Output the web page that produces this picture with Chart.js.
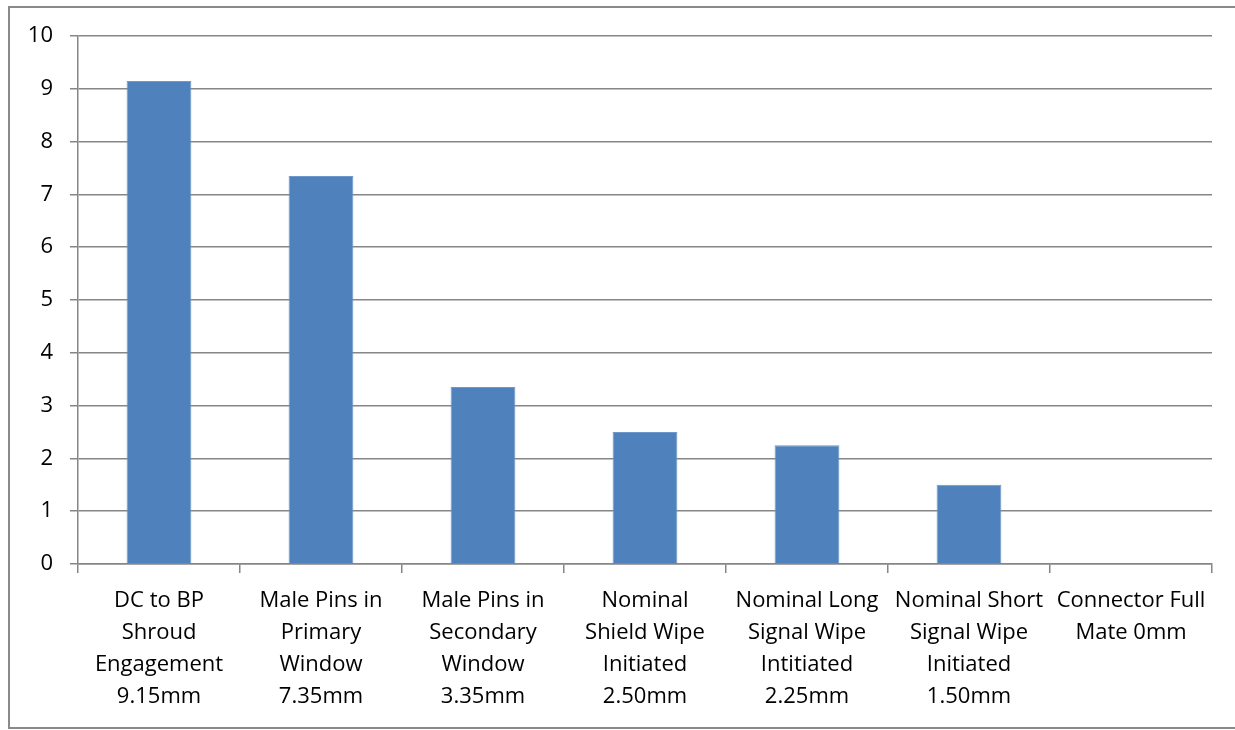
<!DOCTYPE html>
<html>
<head>
<meta charset="utf-8">
<script src="https://cdn.jsdelivr.net/npm/chart.js@4/dist/chart.umd.min.js"></script>
<style>
  html, body { margin: 0; padding: 0; background: #fff; }
  #wrap { position: relative; width: 1235px; height: 730px; }
</style>
</head>
<body>
<div id="wrap"><canvas id="c" width="1235" height="730"></canvas></div>
<script>
// Mating stages and the engagement distance at each stage (mm)
const stageLabels = [
  ["DC to BP", "Shroud", "Engagement", "9.15mm"],
  ["Male Pins in", "Primary", "Window", "7.35mm"],
  ["Male Pins in", "Secondary", "Window", "3.35mm"],
  ["Nominal", "Shield Wipe", "Initiated", "2.50mm"],
  ["Nominal Long", "Signal Wipe", "Intitiated", "2.25mm"],
  ["Nominal Short", "Signal Wipe", "Initiated", "1.50mm"],
  ["Connector Full", "Mate 0mm"]
];
const distances = [9.15, 7.35, 3.35, 2.50, 2.25, 1.50, 0];
const yTicks = [0, 1, 2, 3, 4, 5, 6, 7, 8, 9, 10];

const FONT = "'Open Sans', Lato, sans-serif";
const GRID = "#868686";

// outer frame around the whole chart
const framePlugin = {
  id: "frame",
  beforeDraw(chart) {
    const ctx = chart.ctx;
    ctx.save();
    ctx.strokeStyle = "#8a8a8a";
    ctx.lineWidth = 2;
    ctx.strokeRect(9, 7, 1240, 721);
    ctx.restore();
  }
};

new Chart(document.getElementById("c"), {
  type: "bar",
  data: {
    labels: stageLabels,
    datasets: [{
      data: distances,
      backgroundColor: "#4F81BD",
      borderColor: "#6F97C9",
      borderWidth: 1,
      barPercentage: 0.4,
      categoryPercentage: 1.0
    }]
  },
  options: {
    responsive: false,
    animation: false,
    layout: { padding: { left: 0, right: 23, top: 36, bottom: 0 } },
    plugins: { legend: { display: false }, tooltip: { enabled: false } },
    scales: {
      x: {
        grid: { drawOnChartArea: false, drawTicks: true, tickLength: 9, color: GRID, lineWidth: 1.5 },
        border: { display: true, color: GRID, width: 1.5 },
        ticks: {
          color: "#000",
          maxRotation: 0,
          autoSkip: false,
          padding: 12,
          font: { family: FONT, size: 22, lineHeight: 32 / 22 }
        },
        afterFit(scale) { scale.height = 730 - 564; }
      },
      y: {
        min: 0,
        max: 10,
        afterBuildTicks(scale) { scale.ticks = yTicks.map(v => ({ value: v })); },
        grid: { color: GRID, lineWidth: 1.5, tickLength: 8 },
        border: { display: true, color: GRID, width: 1.5 },
        ticks: {
          color: "#000",
          padding: 17,
          font: { family: FONT, size: 22 }
        },
        afterFit(scale) { scale.width = 78; }
      }
    }
  },
  plugins: [framePlugin]
});
</script>
</body>
</html>
